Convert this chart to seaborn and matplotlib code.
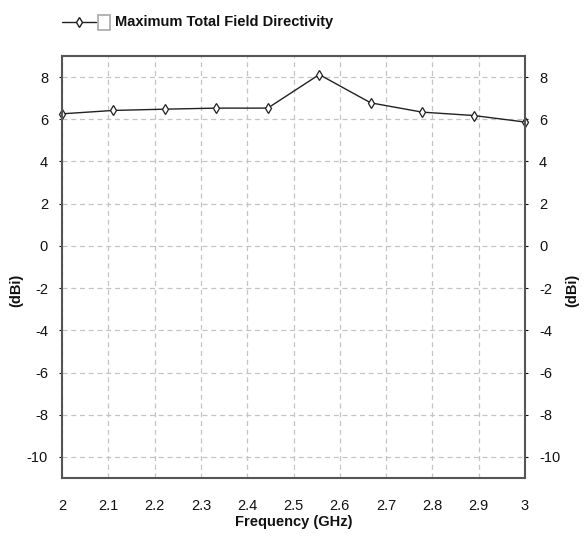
import matplotlib
matplotlib.use("Agg")
import matplotlib.pyplot as plt
from matplotlib.lines import Line2D
from matplotlib.patches import Rectangle
import seaborn as sns
import pandas as pd

# Sweep data
freq_ghz = [2.0, 2.1111, 2.2222, 2.3333, 2.4444, 2.5556, 2.6667, 2.7778, 2.8889, 3.0]
directivity_dbi = [6.26, 6.42, 6.48, 6.53, 6.53, 8.12, 6.78, 6.34, 6.18, 5.87]
x_ticks = [2, 2.1, 2.2, 2.3, 2.4, 2.5, 2.6, 2.7, 2.8, 2.9, 3]
y_ticks = [-10, -8, -6, -4, -2, 0, 2, 4, 6, 8]
series_name = "Maximum Total Field Directivity"

df = pd.DataFrame({"freq": freq_ghz, "dir": directivity_dbi})

sns.set_style("white")
plt.rcParams["font.family"] = ["Liberation Sans", "DejaVu Sans"]
plt.rcParams["axes.unicode_minus"] = False

W, H = 584, 536
fig = plt.figure(figsize=(W / 100, H / 100), dpi=100)
ax = fig.add_axes([62 / W, 1 - 478 / H, (525 - 62) / W, (478 - 56) / H])

sns.lineplot(data=df, x="freq", y="dir", ax=ax, color="#222222", lw=1.0,
             marker="d", markersize=5.5, markerfacecolor="white",
             markeredgecolor="#222222", markeredgewidth=0.9, clip_on=False)

ax.set_xlim(2, 3)
ax.set_ylim(-11, 9)
ax.set_xticks(x_ticks)
ax.set_xticklabels([f"{t:g}" for t in x_ticks])
ax.set_yticks(y_ticks)
ax.grid(True, color="#c4c4c4", linestyle=(0, (4, 3)), lw=0.9)
for s in ax.spines.values():
    s.set_color("#555555")
    s.set_linewidth(1.5)

ax.tick_params(axis="both", labelsize=10.5, colors="#111111", length=2,
               width=0.8, direction="out")
ax.tick_params(axis="x", pad=15, length=0)
ax.tick_params(axis="y", pad=8, left=True, right=True,
               labelleft=True, labelright=True)

ax.set_xlabel("")
ax.set_ylabel("")
fig.text((62 + 525) / 2 / W, 1 - 522 / H, "Frequency (GHz)", fontsize=10.5,
         fontweight="bold", ha="center", va="center", color="#111111")
fig.text(16 / W, 1 - 290 / H, "(dBi)", fontsize=10.5, fontweight="bold",
         rotation=90, ha="center", va="center", color="#111111")
fig.text(572 / W, 1 - 290 / H, "(dBi)", fontsize=10.5, fontweight="bold",
         rotation=90, ha="center", va="center", color="#111111")

# Legend entry drawn at the top of the figure
ly = 1 - 22 / H
fig.add_artist(Line2D([62 / W, 96 / W], [ly, ly], color="#222222", lw=1.0,
                      transform=fig.transFigure))
fig.add_artist(Line2D([79 / W], [ly], color="#222222", marker="d",
                      markersize=5.5, markerfacecolor="white",
                      markeredgecolor="#222222", transform=fig.transFigure))
fig.add_artist(Rectangle((98 / W, 1 - 30 / H), 12 / W, 15 / H,
                         transform=fig.transFigure, facecolor="white",
                         edgecolor="#a8a8a8", lw=1.2))
fig.text(115 / W, ly, series_name, fontsize=10.5, fontweight="bold",
         va="center", ha="left", color="#111111")

fig.savefig("out.png", dpi=100, facecolor="white")
